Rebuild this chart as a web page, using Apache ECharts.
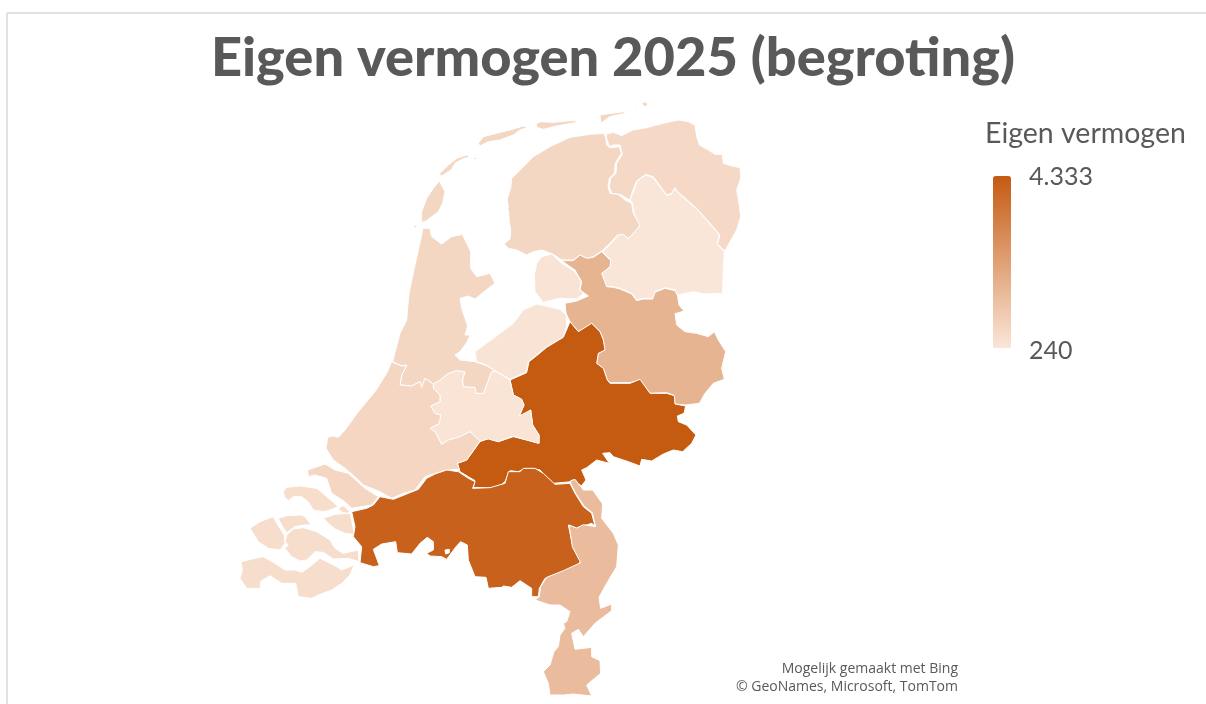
<!DOCTYPE html>
<html>
<head>
<meta charset="utf-8">
<title>Eigen vermogen 2025 (begroting)</title>
<script src="https://cdn.jsdelivr.net/npm/echarts@6/dist/echarts.min.js"></script>
<style>
  html, body { margin: 0; padding: 0; background: #fff; }
  #chart { width: 1206px; height: 704px; }
</style>
</head>
<body>
<div id="chart"></div>
<script>
const provinces = ['Groningen', 'Friesland', 'Drenthe', 'Overijssel', 'Flevoland', 'Gelderland', 'Utrecht',
  'Noord-Holland', 'Zuid-Holland', 'Zeeland', 'Noord-Brabant', 'Limburg'];
const eigenVermogen = [650, 680, 240, 1690, 320, 4333, 300, 680, 710, 500, 4130, 1470];
const scaleRange = [240, 4333];
const scaleLabels = ['4.333', '240'];

// outlines, in 3x crop coordinates (see origins below)
const crop = (ox, oy) => (...p) => {
  const out = [];
  for (let i = 0; i < p.length; i += 2) out.push([ox + p[i] / 3, oy + p[i + 1] / 3]);
  return out;
};
const north = crop(380, 95);
const mid = crop(380, 300);
const south = crop(230, 450);
const zee = crop(235, 455);
const bra = crop(350, 500);
const lim = crop(530, 590);
const wad = crop(410, 100);
const gro = crop(590, 100);
const zh = crop(325, 350);
const ring = (...parts) => parts.flat();

const shapes = {
  Friesland: [
    ring(
      north(672,115,677,128,680,150,690,158,718,155,724,175,706,205,703,235,688,250,684,275,690,295,715,298,735,315,755,325,760,355,780,390,765,412,745,430,730,420,712,420,690,445,665,468,640,485,620,490,600,480,580,495,545,495,520,478,485,465,460,470,440,480,410,465,385,460,372,447,390,432,392,405,388,380,385,345),
      north(378,342,385,340,382,310,392,280,395,250,430,215,460,185,510,155,570,127,630,118)
    ),
    wad(205,130,220,110,260,100,300,90,340,78,352,82,330,90,310,105,270,120,235,125,210,138),
    north(468,88,480,80,520,82,560,78,600,76,580,84,530,93,490,103,472,98),
    gro(30,45,120,32,95,42,60,50,32,70),
    wad(88,222,115,195,140,175,170,165,180,170,155,178,135,190,125,208,95,228),
    wad(190,175,203,170,195,180)
  ],
  Groningen: [
    north(678,118,700,112,725,122,760,105,800,98,850,85,895,75,925,80,945,90,950,125,958,150,985,165,1005,178,1027,178,1030,205,1055,213,1080,218,1082,250,1070,285,1078,330,1082,365,1070,405,1050,440,1035,468,1012,447,1020,420,990,385,950,340,893,290,885,278,875,295,860,300,835,265,820,245,797,238,770,258,757,290,750,315,720,298,695,295,688,275,692,250,708,235,710,205,727,178,720,150,700,150,688,155,680,130),
    gro(155,10,165,5,175,12,165,22),
    gro(137,30,141,28,141,40),
    gro(198,14,210,12,205,16)
  ],
  Drenthe: [
    north(797,240,820,248,835,268,860,302,875,297,885,280,893,292,950,342,990,387,1018,420,1012,448,1033,470,1030,520,1028,597,1000,595,975,597,940,590,893,600,885,585,855,578,825,590,818,610,790,610,770,615,755,595,720,580,700,575,680,575,665,535,690,515,692,495,668,470,692,447,715,420,730,418,745,432,780,392,762,355,757,322,750,315,760,290,772,258)
  ],
  Overijssel: [
    ring(
      north(545,497,580,497,600,480,620,490,640,487,665,470,692,497,690,515,665,535,680,575,700,577,720,582,755,597,770,617,790,612,818,612,825,592,855,580,885,587,893,603,897,630,912,648,890,655),
      mid(885,40,890,75,915,95,950,100,985,110,1003,95,1015,120,1037,155,1025,205,1033,238,1000,250,975,280,958,310,917,315,885,312,880,285,860,278,810,280,780,240,750,248,690,248,682,240,670,205,650,190,655,160,672,150,670,120,660,95,635,70,615,85,595,95,570,65,558,40,555,10),
      north(590,618,625,603,600,585,605,560,585,525)
    )
  ],
  Flevoland: [
    north(485,485,515,477,545,505,585,530,603,560,598,585,612,595,590,612,540,610,490,622,465,590,463,540,470,505),
    mid(285,155,340,115,400,70,430,30,470,12,540,28,558,45,560,80,550,110,500,140,470,165,445,185,440,215,390,238,345,212,320,195,290,185)
  ],
  Gelderland: [
    mid(570,65,595,95,635,70,660,95,670,120,675,150,655,160,650,190,670,205,682,240,690,250,750,250,780,238,810,280,860,280,883,287,885,312,917,318,912,340,892,348,895,365,920,375,948,405,935,430,908,455,880,450,850,462,815,483,785,478,780,498,745,485,700,470,690,458,668,460,688,490,650,480,620,503,605,510,618,540,605,557,575,545,520,550,480,510,455,505,425,510,415,515,390,512,375,545,350,565,280,562,285,542,265,530,240,515,232,490,260,480,300,425,325,415,355,425,400,410,440,420,477,430,477,405,458,375,452,330,435,345,418,348,432,315,425,298,400,285,390,240,440,218,447,185,470,167,500,142,550,112)
  ],
  Utrecht: [
    mid(160,252,180,240,205,220,230,212,255,215,248,240,250,260,285,262,288,280,310,280,335,215,345,213,390,240,400,285,425,298,432,315,418,348,452,330,458,375,477,405,477,430,440,420,400,408,355,425,325,417,300,423,270,395,240,410,205,420,185,433,165,395,150,385,178,370,182,345,165,340,152,318,180,305,180,285,160,265)
  ],
  'Noord-Holland': [
    ring(
      north(128,400,150,400,155,425,185,447,215,425,247,418,272,470,272,520,290,545,330,535,345,565,325,580,285,612,265,603,240,610,245,640,262,690),
      mid(262,80,255,105,270,105,262,125,240,155,225,165,240,180,285,185,320,197,345,212,335,215,310,280,288,280,285,262,250,260,248,240,255,215,230,212,205,220,180,240,160,252,135,235,125,262,120,245,95,258,60,255,65,225,80,195,65,197,38,185,60,100,80,60,85,0),
      north(88,590,105,510,125,420)
    ),
    wad(88,243,105,275,98,310,85,335,65,350,50,362,35,368,35,335,50,295,70,265),
    wad(10,378,25,375,15,385)
  ],
  'Zuid-Holland': [
    ring(
      mid(38,187,65,198,80,197,65,225,60,255,95,258,120,245,125,262,135,235,160,252,160,265,180,285,180,305,152,318,165,340,182,345,178,370,150,385,165,395,185,433,205,420,240,410,270,395,300,423,260,480,232,490,238,508,200,510,160,522,135,530,105,570,70,580,35,595,0,575),
      south(400,105),
      zh(95,385,60,355,25,330,3,295,8,262,25,258,40,262,60,240,100,185,150,125,185,70,200,35)
    ),
    zee(218,45,270,27,300,45,340,55,390,100,430,125,410,150,350,160,330,140,290,115,275,70,240,60,220,65)
  ],
  Zeeland: [
    zee(145,110,155,97,195,93,245,100,275,125,310,155,285,165,265,170,235,165,220,140,200,125,175,125,160,137,148,125),
    zee(310,160,325,152,345,170,335,175,318,170),
    zee(265,190,300,178,345,175,350,195,358,238,330,235,300,222,280,205),
    zee(130,190,155,182,200,180,210,185,228,210,205,210,180,215,155,233,140,210),
    zee(45,220,75,200,115,185,125,205,148,240,150,265,135,285,100,280,70,260),
    zee(155,240,175,222,205,218,245,230,285,255,300,280,325,295,370,285,372,320,340,310,295,312,265,292,240,290,215,315,195,318,170,305,150,280,160,270,150,262),
    zee(18,320,60,310,85,305,120,325,150,345,180,345,200,352,225,335,255,310,275,320,305,335,320,345,357,330,345,360,320,385,290,405,250,420,230,430,190,425,182,385,140,385,105,362,78,378,75,400,35,400,15,370,22,345)
  ],
  'Noord-Brabant': [
    ring(
      south(365,185,410,175,430,165,450,140,490,148,535,130,565,118,590,85,615,72,650,60,685,65,715,85,735,95,728,115,780,113,825,100,835,65,870,65,880,55,915,55,940,70,975,103,1020,100,1035,130,1060,170,1085,190,1095,228),
      bra(725,70,680,85,655,75,670,145,692,185,665,210,640,220,585,235,568,265,565,290,545,290,545,265,510,242,485,262,460,258,455,262,415,265,408,232,375,230,355,180,352,135,332,125,318,140,290,178,275,170,240,168,230,160,250,150,250,125,232,112,210,130,185,162,142,158,137,125,95,132,70,148,88,197,70,200,30,188,35,140,10,110,15,80,5,35)
    )
  ],
  Limburg: [
    ring(
      south(1022,92,1035,88,1060,120,1088,120,1118,162,1115,205,1150,250,1165,285,1160,350,1130,400),
      lim(207,22,212,55,245,42,245,62,195,100,160,140,145,118,125,130,135,178,185,172,185,200,210,212,212,250,170,285,185,318,130,312,100,315,60,315,55,280,40,245,60,225,72,185,85,170,90,135,105,115,100,100,110,95,120,65,90,45,60,45,15,30),
      south(928,440,932,410,950,382,1000,362,1052,338,1027,290,1017,225,1040,234,1060,224,1097,230,1087,188,1062,168,1037,130,1022,100)
    )
  ]
};
// Baarle: the small gap inside Noord-Brabant
const holes = { 'Noord-Brabant': [bra(285,150,287,162,298,158,298,148)] };

const closeRing = r => r.concat([r[0]]);
echarts.registerMap('nl', {
  type: 'FeatureCollection',
  features: provinces.map(name => ({
    type: 'Feature',
    properties: { name: name },
    geometry: {
      type: 'MultiPolygon',
      coordinates: shapes[name].map((r, i) => {
        const inner = (i === 0 && holes[name]) || [];
        return [closeRing(r)].concat(inner.map(closeRing));
      })
    }
  }))
});

const textColor = '#595959';
const chart = echarts.init(document.getElementById('chart'), null, { renderer: 'canvas' });
chart.setOption({
  animation: false,
  backgroundColor: '#fff',
  title: [
    { text: 'Eigen vermogen 2025 (begroting)', left: 613, top: 32, textAlign: 'center', padding: 0,
      textStyle: { fontFamily: 'Lato', fontSize: 54.2, fontWeight: 900, color: textColor } },
    { text: 'Eigen vermogen', left: 985, top: 119, padding: 0,
      textStyle: { fontFamily: 'Lato', fontSize: 28.5, fontWeight: 400, color: textColor } },
    { text: scaleLabels[0], left: 1029, top: 164, padding: 0,
      textStyle: { fontFamily: 'Lato', fontSize: 25, fontWeight: 400, color: textColor } },
    { text: scaleLabels[1], left: 1029, top: 338, padding: 0,
      textStyle: { fontFamily: 'Lato', fontSize: 25, fontWeight: 400, color: textColor } },
    { text: 'Mogelijk gemaakt met Bing\n© GeoNames, Microsoft, TomTom', left: 958, top: 660, padding: 0,
      textAlign: 'right',
      textStyle: { fontFamily: 'Open Sans', fontSize: 14, fontWeight: 400, color: textColor, lineHeight: 18, align: 'right' } }
  ],
  visualMap: {
    type: 'continuous',
    min: scaleRange[0],
    max: scaleRange[1],
    left: 993,
    top: 176,
    padding: 0,
    itemWidth: 18,
    itemHeight: 172,
    calculable: false,
    showLabel: false,
    text: null,
    inRange: { color: ['#fae6d9', '#C55A11'] },
    seriesIndex: 0
  },
  series: [
    {
      type: 'map',
      map: 'nl',
      silent: true,
      roam: false,
      projection: { project: p => p, unproject: p => p },
      boundingCoords: [[0, 0], [1206, 704]],
      left: 0,
      top: 0,
      width: 1206,
      height: 704,
      label: { show: false },
      itemStyle: { borderColor: '#fff', borderWidth: 1 },
      data: provinces.map((name, i) => ({ name: name, value: eigenVermogen[i] }))
    }
  ],
  graphic: [
    { type: 'line', silent: true, shape: { x1: 7, y1: 13, x2: 1206, y2: 13 }, style: { stroke: '#d9d9d9', lineWidth: 1.5 } },
    { type: 'line', silent: true, shape: { x1: 7, y1: 13, x2: 7, y2: 704 }, style: { stroke: '#d9d9d9', lineWidth: 1.5 } }
  ]
});

window.addEventListener('resize', () => chart.resize());
</script>
</body>
</html>
